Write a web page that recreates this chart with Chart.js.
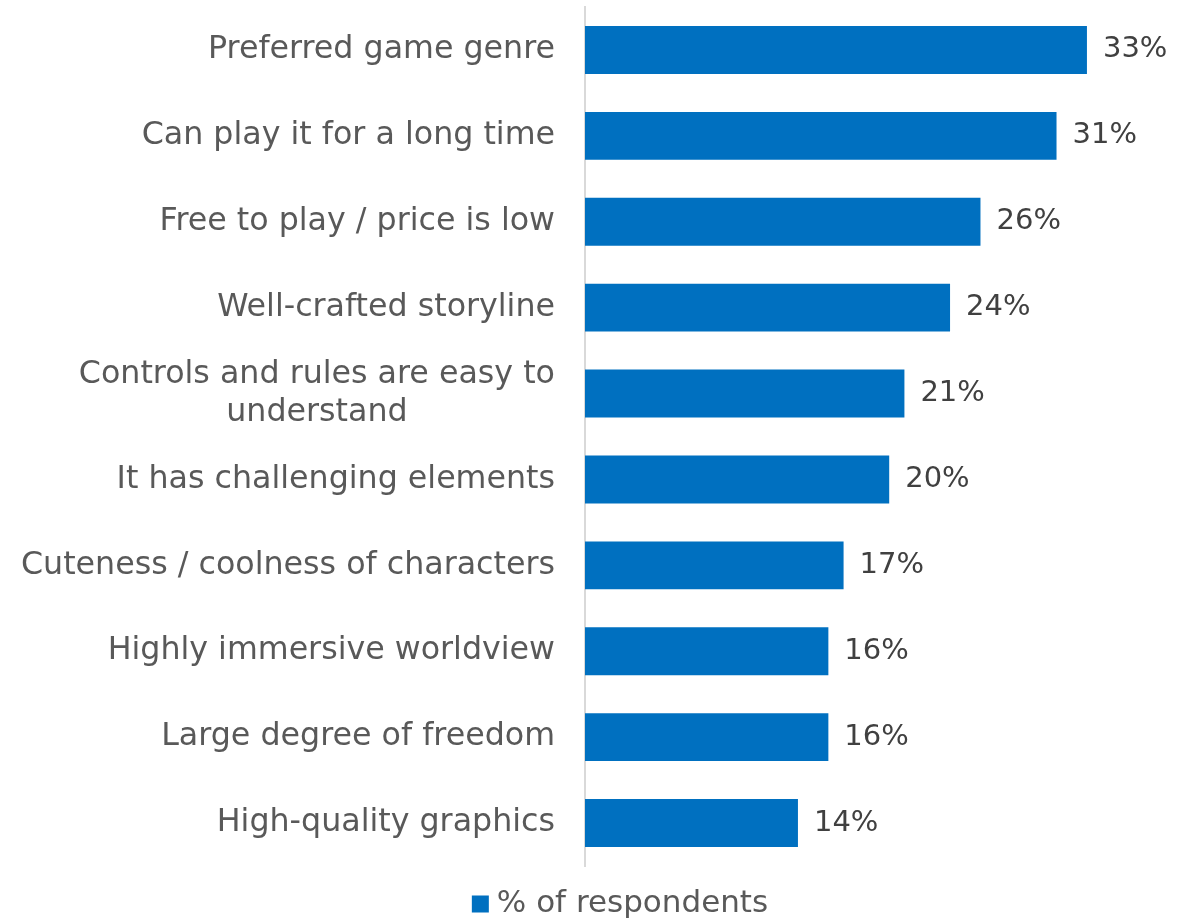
<!DOCTYPE html>
<html>
<head>
<meta charset="utf-8">
<script src="https://cdn.jsdelivr.net/npm/chart.js@4/dist/chart.umd.min.js"></script>
<style>
  html, body { margin: 0; padding: 0; background: #ffffff; }
  #wrap { width: 1195px; height: 920px; }
</style>
</head>
<body>
<div id="wrap"><canvas id="c" width="1195" height="920"></canvas></div>
<script>
// Reasons for choosing a game, share of respondents (%)
const categories = [
  ["Preferred game genre"],
  ["Can play it for a long time"],
  ["Free to play / price is low"],
  ["Well-crafted storyline"],
  ["Controls and rules are easy to", "understand"],
  ["It has challenging elements"],
  ["Cuteness / coolness of characters"],
  ["Highly immersive worldview"],
  ["Large degree of freedom"],
  ["High-quality graphics"]
];
const respondents = [33, 31, 26, 24, 21, 20, 17, 16, 16, 14];
const seriesName = "% of respondents";

const FONT = "'DejaVu Sans', sans-serif";
const BLUE = "#0070C0";
const LABEL_GREY = "#595959";
const VALUE_GREY = "#404040";

// Category labels: block right-aligned against the axis, lines centred within the block
const categoryLabels = {
  id: 'categoryLabels',
  afterDraw(chart) {
    const ctx = chart.ctx;
    const y = chart.scales.y;
    const right = y.right - 30;
    const lineH = 38;
    ctx.save();
    ctx.font = "31.7px " + FONT;
    ctx.fillStyle = LABEL_GREY;
    ctx.textAlign = 'center';
    ctx.textBaseline = 'middle';
    categories.forEach((lines, i) => {
      const cy = y.getPixelForValue(i);
      const w = Math.max(...lines.map(l => ctx.measureText(l).width));
      const cx = right - w / 2;
      lines.forEach((l, j) => {
        ctx.fillText(l, cx, cy + (j - (lines.length - 1) / 2) * lineH);
      });
    });
    ctx.restore();
  }
};

// Value labels at the end of each bar
const valueLabels = {
  id: 'valueLabels',
  afterDatasetsDraw(chart) {
    const ctx = chart.ctx;
    const meta = chart.getDatasetMeta(0);
    ctx.save();
    ctx.font = "29px " + FONT;
    ctx.fillStyle = VALUE_GREY;
    ctx.textAlign = 'left';
    ctx.textBaseline = 'middle';
    meta.data.forEach((bar, i) => {
      ctx.fillText(respondents[i] + '%', bar.x + 16, bar.y);
    });
    ctx.restore();
  }
};

// Single-entry legend below the plot
const bottomLegend = {
  id: 'bottomLegend',
  afterDraw(chart) {
    const ctx = chart.ctx;
    const ds = chart.data.datasets[0];
    ctx.save();
    ctx.font = "31px " + FONT;
    const tw = ctx.measureText(ds.label).width;
    const box = 17, gap = 8;
    const total = box + gap + tw;
    const x0 = 620 - total / 2;
    const cy = 904;
    ctx.fillStyle = ds.backgroundColor;
    ctx.fillRect(x0, cy - box / 2, box, box);
    ctx.fillStyle = LABEL_GREY;
    ctx.textAlign = 'left';
    ctx.textBaseline = 'middle';
    ctx.fillText(ds.label, x0 + box + gap, cy);
    ctx.restore();
  }
};

new Chart(document.getElementById('c'), {
  type: 'bar',
  data: {
    labels: categories,
    datasets: [{
      label: seriesName,
      data: respondents,
      backgroundColor: BLUE,
      borderWidth: 0,
      categoryPercentage: 1.0,
      barPercentage: 0.558
    }]
  },
  options: {
    indexAxis: 'y',
    responsive: false,
    animation: false,
    layout: { padding: { top: 7, right: 32, bottom: 54, left: 0 } },
    scales: {
      x: {
        display: false,
        min: 0,
        max: 38
      },
      y: {
        afterFit(scale) { scale.width = 585; },
        grid: { display: false, drawTicks: false },
        border: { display: true, color: '#d9d9d9', width: 2 },
        ticks: { display: false }
      }
    },
    plugins: {
      legend: { display: false },
      tooltip: { enabled: false }
    }
  },
  plugins: [valueLabels, categoryLabels, bottomLegend]
});
</script>
</body>
</html>
